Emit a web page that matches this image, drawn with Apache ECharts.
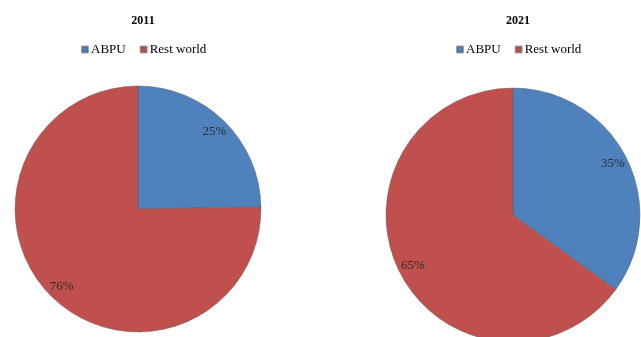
<html>
<head>
    <meta http-equiv="Content-Type" content="text/html; charset=utf-8" />
    <title>ABPU share</title>
    <script src="https://cdn.jsdelivr.net/npm/echarts@6/dist/echarts.min.js"></script>
    <style>html,body{margin:0;padding:0;background:#fff;}</style>
</head>
<body>
    <div id="main" style="width:641px;height:337px"></div>
    <script type="text/javascript">
        var categories = ['ABPU', 'Rest world'];
        var years = ['2011', '2021'];
        var share2011 = [25, 76];
        var share2021 = [35, 65];

        var colors = ['#4F81BD', '#C0504D'];
        var serif = '"Liberation Serif", "DejaVu Serif", serif';

        function toData(values) {
            return categories.map(function (name, i) {
                return { name: name, value: values[i] };
            });
        }

        // left pie / right pie placement
        var pies = [
            { year: years[0], values: share2011, cx: 138, cy: 209, r: 123 },
            { year: years[1], values: share2021, cx: 513, cy: 215, r: 127 }
        ];

        var series = [];
        pies.forEach(function (p) {
            series.push({
                type: 'pie',
                center: [p.cx, p.cy],
                radius: [0, p.r],
                startAngle: 90,
                clockwise: true,
                silent: true,
                label: { show: false },
                labelLine: { show: false },
                itemStyle: { borderColor: 'rgba(90,90,90,0.55)', borderWidth: 0.8 },
                data: toData(p.values)
            });
        });
        // transparent ring only used to place the % labels near the rim
        pies.forEach(function (p) {
            series.push({
                type: 'pie',
                center: [p.cx, p.cy],
                radius: [p.r * 0.72, p.r],
                startAngle: 90,
                clockwise: true,
                silent: true,
                itemStyle: { color: 'transparent', borderWidth: 0 },
                label: {
                    show: true,
                    position: 'inside',
                    formatter: '{c}%',
                    color: '#2a2a2a',
                    fontFamily: serif,
                    fontSize: 13
                },
                labelLine: { show: false },
                data: toData(p.values)
            });
        });

        var option = {
            animation: false,
            color: colors,
            title: pies.map(function (p) {
                return {
                    text: p.year,
                    left: p.cx,
                    top: 10,
                    textAlign: 'center',
                    textStyle: { fontFamily: serif, fontSize: 12, fontWeight: 'bold', color: '#000' }
                };
            }),
            legend: pies.map(function (p) {
                return {
                    data: categories,
                    left: p.cx - 62,
                    top: 38,
                    icon: 'rect',
                    itemWidth: 6,
                    itemHeight: 6,
                    itemGap: 14,
                    textStyle: { fontFamily: serif, fontSize: 13, color: '#000', padding: [0, 0, 0, -2] }
                };
            }),
            series: series
        };

        var myChart = echarts.init(document.getElementById('main'));
        myChart.setOption(option);
    </script>
</body>
</html>
